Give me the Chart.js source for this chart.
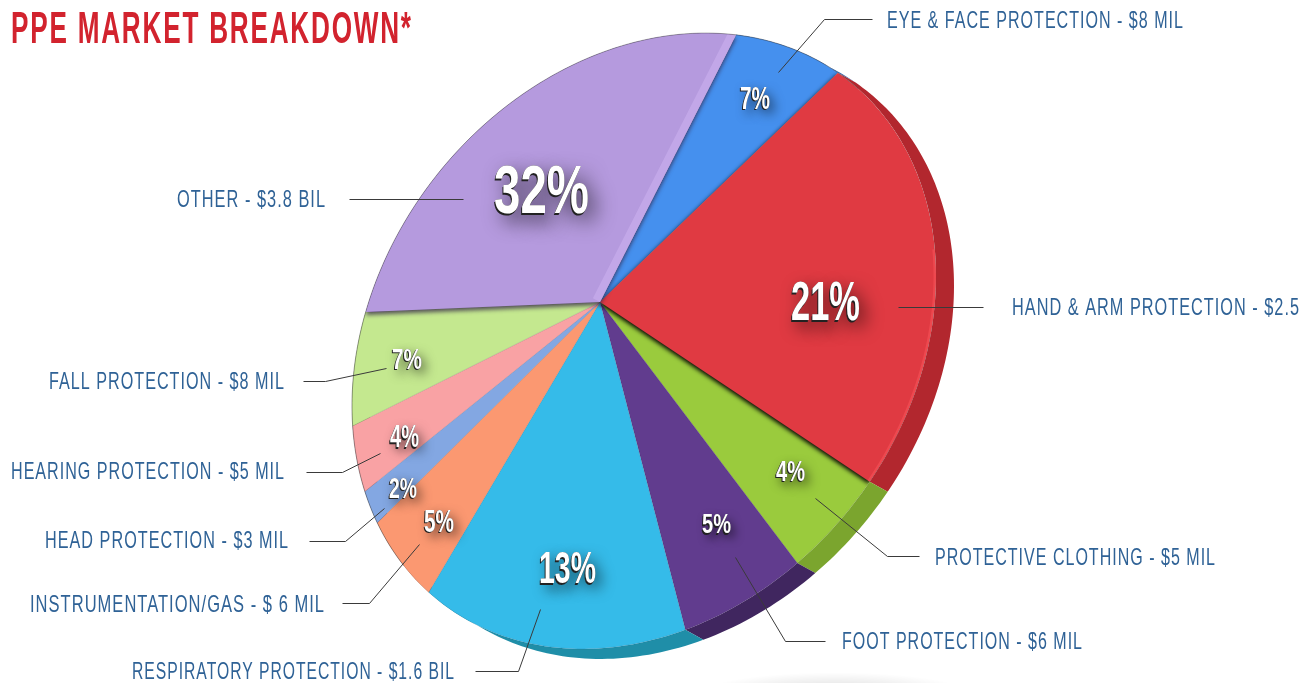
<!DOCTYPE html>
<html>
<head>
<meta charset="utf-8">
<title>PPE Market Breakdown</title>
<script src="https://cdn.jsdelivr.net/npm/chart.js@4"></script>
<style>
    html, body { margin: 0; padding: 0; background: #fff; overflow: hidden; }
    canvas { display: block; }
</style>
</head>
<body>
<canvas id="ppe-pie-chart" width="1313" height="683"></canvas>
<script>
const chartTitle = "PPE MARKET BREAKDOWN*";
const categories = ["OTHER", "EYE & FACE PROTECTION", "HAND & ARM PROTECTION", "PROTECTIVE CLOTHING", "FOOT PROTECTION", "RESPIRATORY PROTECTION", "INSTRUMENTATION/GAS", "HEAD PROTECTION", "HEARING PROTECTION", "FALL PROTECTION"];
const amounts = ["$3.8 BIL", "$8 MIL", "$2.5", "$5 MIL", "$6 MIL", "$1.6 BIL", "$ 6 MIL", "$3 MIL", "$5 MIL", "$8 MIL"];
const percents = [32, 7, 21, 4, 5, 13, 5, 2, 4, 7];
const faceColors = ["#b59ade", "#4590ee", "#e03a42", "#9acb3d", "#613c8e", "#35bbe9", "#fb9871", "#83a7e2", "#f9a2a4", "#c4e88f"];
const wallColors = ["#8a74ab", "#2f68b0", "#b2272e", "#7ba52e", "#40265f", "#1f8ea8", "#b86f52", "#5f7aa6", "#b87778", "#90ab69"];

// where the tilted pie sits on the page
const face = { cx: 644, cy: 341, xx: 292, yx: -65, yy: 301, apexX: 600, apexY: 302, ax: -0.08, ay: -0.112 };
const wall = { dx: 18, dy: 10 };

// text layout, same order as categories: [left, right, centre y]
const labelBoxes = [[177, 325, 199], [887, 1183, 20], [1012, 1299, 307], [935, 1215, 557], [842, 1082, 641], [132, 454, 671], [30, 324, 604], [45, 288, 540], [11, 284, 471], [49, 284, 381]];
// [left, right, centre y, cap height]
const percentBoxes = [[494, 589, 188, 50], [740, 770, 97, 23], [791, 860, 300, 40], [776, 805, 470, 21], [702, 731, 523, 20], [539, 596, 567, 32], [424, 454, 520, 23], [389, 417, 487, 21], [390, 419, 436, 22], [392, 422, 358, 21]];
const leaders = [
    [[349, 199], [463, 199]],
    [[872, 19], [824, 19], [778, 72]],
    [[898, 307], [983, 307]],
    [[815, 498], [887, 556], [919, 556]],
    [[735, 557], [785, 641], [825, 641]],
    [[540, 609], [518, 671], [475, 671]],
    [[419, 544], [369, 603], [342, 603]],
    [[384, 508], [345, 541], [309, 541]],
    [[380, 453], [342, 472], [306, 472]],
    [[386, 368], [325, 381], [303, 381]]
];

// circle angle -> point on the tilted rim (projective map, so the centre lands on the apex)
const rimPoint = (angle) => {
    const c = Math.cos(angle), s = Math.sin(angle);
    const nr = c + face.ax, ni = s + face.ay;
    const dr = 1 + face.ax * c + face.ay * s, di = face.ax * s - face.ay * c;
    const d = dr * dr + di * di;
    const wr = (nr * dr + ni * di) / d, wi = (ni * dr - nr * di) / d;
    return { x: face.cx + face.xx * wr, y: face.cy + face.yx * wr + face.yy * wi };
};

const rimPoints = (start, end) => {
    const steps = Math.max(2, Math.ceil((end - start) * 60));
    const pts = [];
    for (let i = 0; i <= steps; i++) pts.push(rimPoint(start + (end - start) * i / steps));
    return pts;
};

const traceSlice = (ctx, arc) => {
    ctx.beginPath();
    ctx.moveTo(face.apexX, face.apexY);
    rimPoints(arc.startAngle, arc.endAngle).forEach(p => ctx.lineTo(p.x, p.y));
    ctx.closePath();
};

const traceFace = (ctx) => {
    ctx.beginPath();
    rimPoints(0, Math.PI * 2).forEach(p => ctx.lineTo(p.x, p.y));
    ctx.closePath();
};

const narrowText = (ctx, text, left, right, baseline, font, color, spacing = 0) => {
    ctx.save();
    ctx.font = font;
    ctx.letterSpacing = spacing + "px";
    const scaleX = (right - left) / (ctx.measureText(text).width - spacing);
    ctx.translate(left, baseline);
    ctx.scale(scaleX, 1);
    ctx.fillStyle = color;
    ctx.textAlign = "left";
    ctx.textBaseline = "alphabetic";
    ctx.fillText(text, 0, 0);
    ctx.restore();
};

const tiltedPie = {
    id: "tiltedPie",
    beforeDatasetsDraw(chart) {
        const ctx = chart.ctx;
        const arcs = chart.getDatasetMeta(0).data;

        // soft floor shadow
        ctx.save();
        ctx.translate(835, 694);
        ctx.scale(1, 0.16);
        const floor = ctx.createRadialGradient(0, 0, 10, 0, 0, 135);
        floor.addColorStop(0, "rgba(0,0,0,0.14)");
        floor.addColorStop(1, "rgba(0,0,0,0)");
        ctx.fillStyle = floor;
        ctx.beginPath();
        ctx.arc(0, 0, 135, 0, Math.PI * 2);
        ctx.fill();
        ctx.restore();

        // side walls first, the top face covers whatever is not showing
        arcs.forEach((arc, i) => {
            const pts = rimPoints(arc.startAngle, arc.endAngle);
            ctx.beginPath();
            pts.forEach(p => ctx.lineTo(p.x, p.y));
            pts.reverse().forEach(p => ctx.lineTo(p.x + wall.dx, p.y + wall.dy));
            ctx.closePath();
            ctx.fillStyle = wallColors[i];
            ctx.fill();
        });

        const raised = [2, 0];
        arcs.forEach((arc, i) => {
            if (raised.includes(i)) return;
            traceSlice(ctx, arc);
            ctx.fillStyle = faceColors[i];
            ctx.fill();
            ctx.strokeStyle = "rgba(40,40,60,0.15)";
            ctx.lineWidth = 0.8;
            ctx.stroke();
        });

        // red and purple slices throw a hard shadow on their neighbours
        ctx.save();
        traceFace(ctx);
        ctx.clip();
        raised.forEach(i => {
            ctx.save();
            ctx.shadowColor = i === 2 ? "rgba(0,0,0,0.95)" : "rgba(50,35,70,0.75)";
            ctx.shadowBlur = 4;
            ctx.shadowOffsetX = i === 2 ? -1 : 0;
            ctx.shadowOffsetY = i === 2 ? 2 : 3;
            traceSlice(ctx, arcs[i]);
            ctx.fillStyle = faceColors[i];
            ctx.fill();
            ctx.restore();
        });

        // bevel highlights
        ctx.save();
        traceSlice(ctx, arcs[2]);
        ctx.clip();
        ctx.beginPath();
        rimPoints(arcs[2].startAngle + 0.7, arcs[2].endAngle).forEach(p => ctx.lineTo(p.x, p.y));
        ctx.strokeStyle = "rgba(255,90,95,0.45)";
        ctx.lineWidth = 5;
        ctx.stroke();
        ctx.restore();

        ctx.save();
        traceSlice(ctx, arcs[0]);
        ctx.clip();
        const edge = rimPoint(arcs[0].endAngle);
        ctx.beginPath();
        ctx.moveTo(face.apexX, face.apexY);
        ctx.lineTo(edge.x, edge.y);
        ctx.strokeStyle = "rgba(198,170,234,0.8)";
        ctx.lineWidth = 16;
        ctx.stroke();
        ctx.restore();
        ctx.restore();

        // thin grey rim on the upper left side
        ctx.beginPath();
        rimPoints(Math.PI * 0.72, Math.PI * 1.85).forEach(p => ctx.lineTo(p.x, p.y));
        ctx.strokeStyle = "rgba(60,60,60,0.4)";
        ctx.lineWidth = 1;
        ctx.stroke();

        return false;
    },
    afterDraw(chart) {
        const ctx = chart.ctx;

        narrowText(ctx, chartTitle, 11, 411, 43, 'bold 44px "Liberation Sans Narrow", "Liberation Sans"', "#d2232e", 3);

        ctx.save();
        ctx.lineWidth = 1;
        ctx.strokeStyle = "#3a3a3a";
        leaders.forEach(line => {
            ctx.beginPath();
            line.forEach(([x, y]) => ctx.lineTo(x + 0.5, y + 0.5));
            ctx.stroke();
        });
        ctx.restore();

        categories.forEach((name, i) => {
            const [left, right, midY] = labelBoxes[i];
            narrowText(ctx, `${name} - ${amounts[i]}`, left, right, midY + 8, '24px "Liberation Sans Narrow", "Liberation Sans"', "#2f6296", 1.5);
        });

        percents.forEach((value, i) => {
            const [left, right, midY, cap] = percentBoxes[i];
            const font = `bold ${cap / 0.72}px "Liberation Sans Narrow", "Liberation Sans"`;
            const text = `${value}%`;
            const base = midY + cap / 2;
            ctx.save();
            ctx.shadowColor = "rgba(0,0,0,0.75)";
            ctx.shadowBlur = cap * 0.35 + 3;
            ctx.shadowOffsetX = cap * 0.1 + 2;
            ctx.shadowOffsetY = cap * 0.1 + 3;
            narrowText(ctx, text, left, right, base, font, "#222");
            ctx.restore();
            narrowText(ctx, text, left - 1, right - 1, base + 1.5, font, "#222");
            narrowText(ctx, text, left, right, base, font, "#ffffff");
        });
    }
};

new Chart(document.getElementById("ppe-pie-chart"), {
    type: "pie",
    data: {
        labels: categories,
        datasets: [{ data: percents, backgroundColor: faceColors, borderWidth: 0 }]
    },
    options: {
        responsive: false,
        animation: false,
        rotation: -83,
        plugins: {
            legend: { display: false },
            tooltip: { enabled: false }
        }
    },
    plugins: [tiltedPie]
});
</script>
</body>
</html>
